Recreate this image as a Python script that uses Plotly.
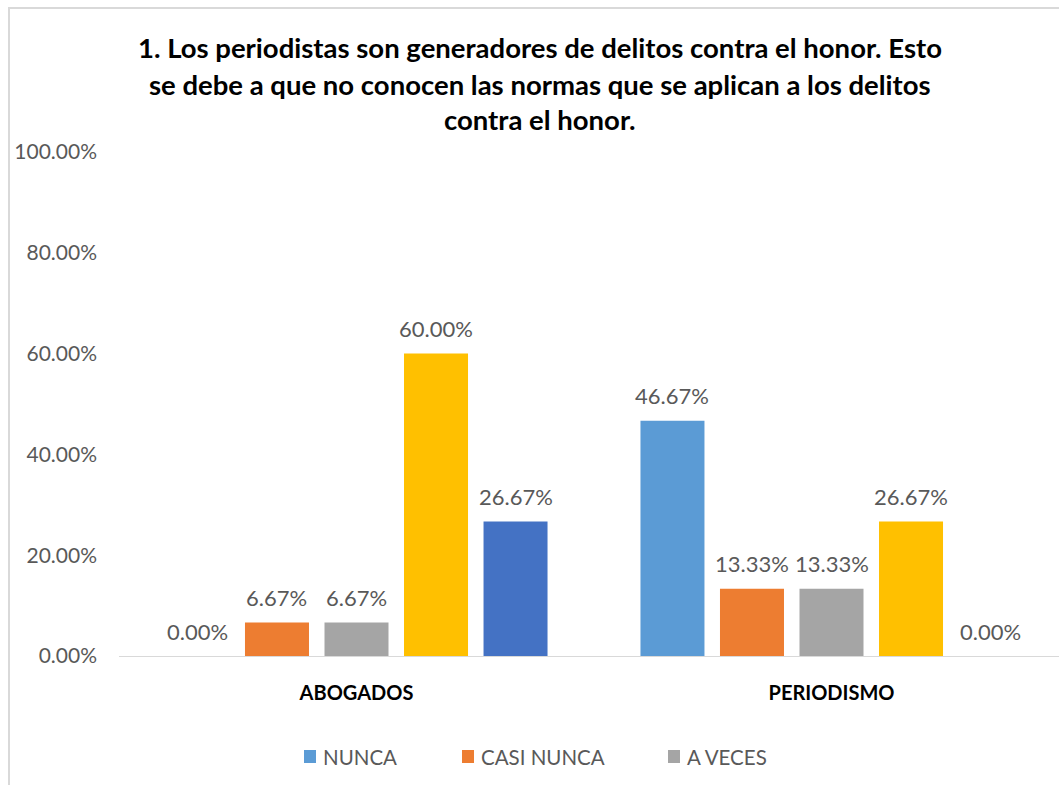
import plotly.graph_objects as go

categories = ["ABOGADOS", "PERIODISMO"]
series_names = ["NUNCA", "CASI NUNCA", "A VECES", "CASI SIEMPRE", "SIEMPRE"]
nunca = [0.0, 0.4667]
casi_nunca = [0.0667, 0.1333]
a_veces = [0.0667, 0.1333]
casi_siempre = [0.60, 0.2667]
siempre = [0.2667, 0.0]
colors = ["#5B9BD5", "#ED7D31", "#A5A5A5", "#FFC000", "#4472C4"]
show_in_legend = [True, True, True, False, False]
title_lines = [
    "1. Los periodistas son generadores de delitos contra el honor. Esto",
    "se debe a que no conocen las normas que se aplican a los delitos",
    "contra el honor.",
]

FONT = "Lato, 'Open Sans', sans-serif"
series_values = [nunca, casi_nunca, a_veces, casi_siempre, siempre]

W, H = 1059, 785
L, R, T, B = 119, 0, 152, 129
pw, ph = W - L - R, H - T - B
cat_w = 475.0  # pixel width of one category band
BARGAP, BARGROUPGAP = 0.163, 0.195
slot = cat_w * (1 - BARGAP) / len(series_names)

def px(xp):
    return (xp - L) / pw

def py(yp):
    return (H - B - yp) / ph

fig = go.Figure()
annotations = []
n = len(series_names)
for i, (name, vals, col) in enumerate(zip(series_names, series_values, colors)):
    fig.add_trace(go.Bar(
        x=categories, y=vals, name=name, marker_color=col, marker_line_width=0,
        showlegend=False, cliponaxis=False,
    ))
    for cat, v in zip(categories, vals):
        annotations.append(dict(text="%.2f%%" % (v * 100), x=cat, y=v, xref="x", yref="y",
                                xshift=(i - (n - 1) / 2) * slot, yshift=25,
                                xanchor="center", yanchor="middle", showarrow=False,
                                font=dict(size=22, color="#595959", family=FONT)))

for line, yc in zip(title_lines, [47, 84, 119]):
    annotations.append(dict(text="<b>%s</b>" % line, x=px(540), y=py(yc), xref="paper", yref="paper",
                            xanchor="center", yanchor="middle", showarrow=False,
                            font=dict(size=27.5, color="#000000", family=FONT)))

# legend (manual, to match spacing)
shapes = [dict(type="rect", xref="paper", yref="paper", x0=px(9), x1=px(1070), y0=py(800), y1=py(8),
               line=dict(color="#D9D9D9", width=2), fillcolor="rgba(0,0,0,0)", layer="below")]
legend_marker_x = [304, 462, 668]
for i, (name, col, sl) in enumerate(zip(series_names, colors, show_in_legend)):
    if not sl:
        continue
    mx = legend_marker_x[i]
    shapes.append(dict(type="rect", xref="paper", yref="paper", x0=px(mx), x1=px(mx + 12),
                       y0=py(763), y1=py(750), fillcolor=col, line=dict(width=0)))
    annotations.append(dict(text=name, x=px(mx + 17), y=py(756.5), xref="paper", yref="paper",
                            xanchor="left", yanchor="middle", showarrow=False,
                            font=dict(size=20.5, color="#595959", family=FONT)))

fig.update_layout(
    width=W, height=H,
    margin=dict(l=L, r=R, t=T, b=B),
    plot_bgcolor="white", paper_bgcolor="white",
    barmode="group", bargap=BARGAP, bargroupgap=BARGROUPGAP,
    font=dict(family=FONT, color="#595959"),
    annotations=annotations,
    showlegend=False,
    shapes=shapes,
    xaxis=dict(tickvals=categories, ticktext=["<b>%s</b>" % c for c in categories],
               range=[-0.5, -0.5 + pw / cat_w],
               tickfont=dict(size=20, color="#000000", family=FONT), showline=True,
               linecolor="#D9D9D9", linewidth=1, ticks="", ticklabelstandoff=19, showgrid=False),
    yaxis=dict(range=[0, 1], dtick=0.2, tickformat=".2%", showgrid=False, zeroline=False,
               showline=False, tickfont=dict(size=21, color="#595959", family=FONT), ticklabelstandoff=21),
)

fig.write_html("out.html", config={"displayModeBar": False},
               post_script="document.body.style.margin='0';document.body.style.padding='0';")
